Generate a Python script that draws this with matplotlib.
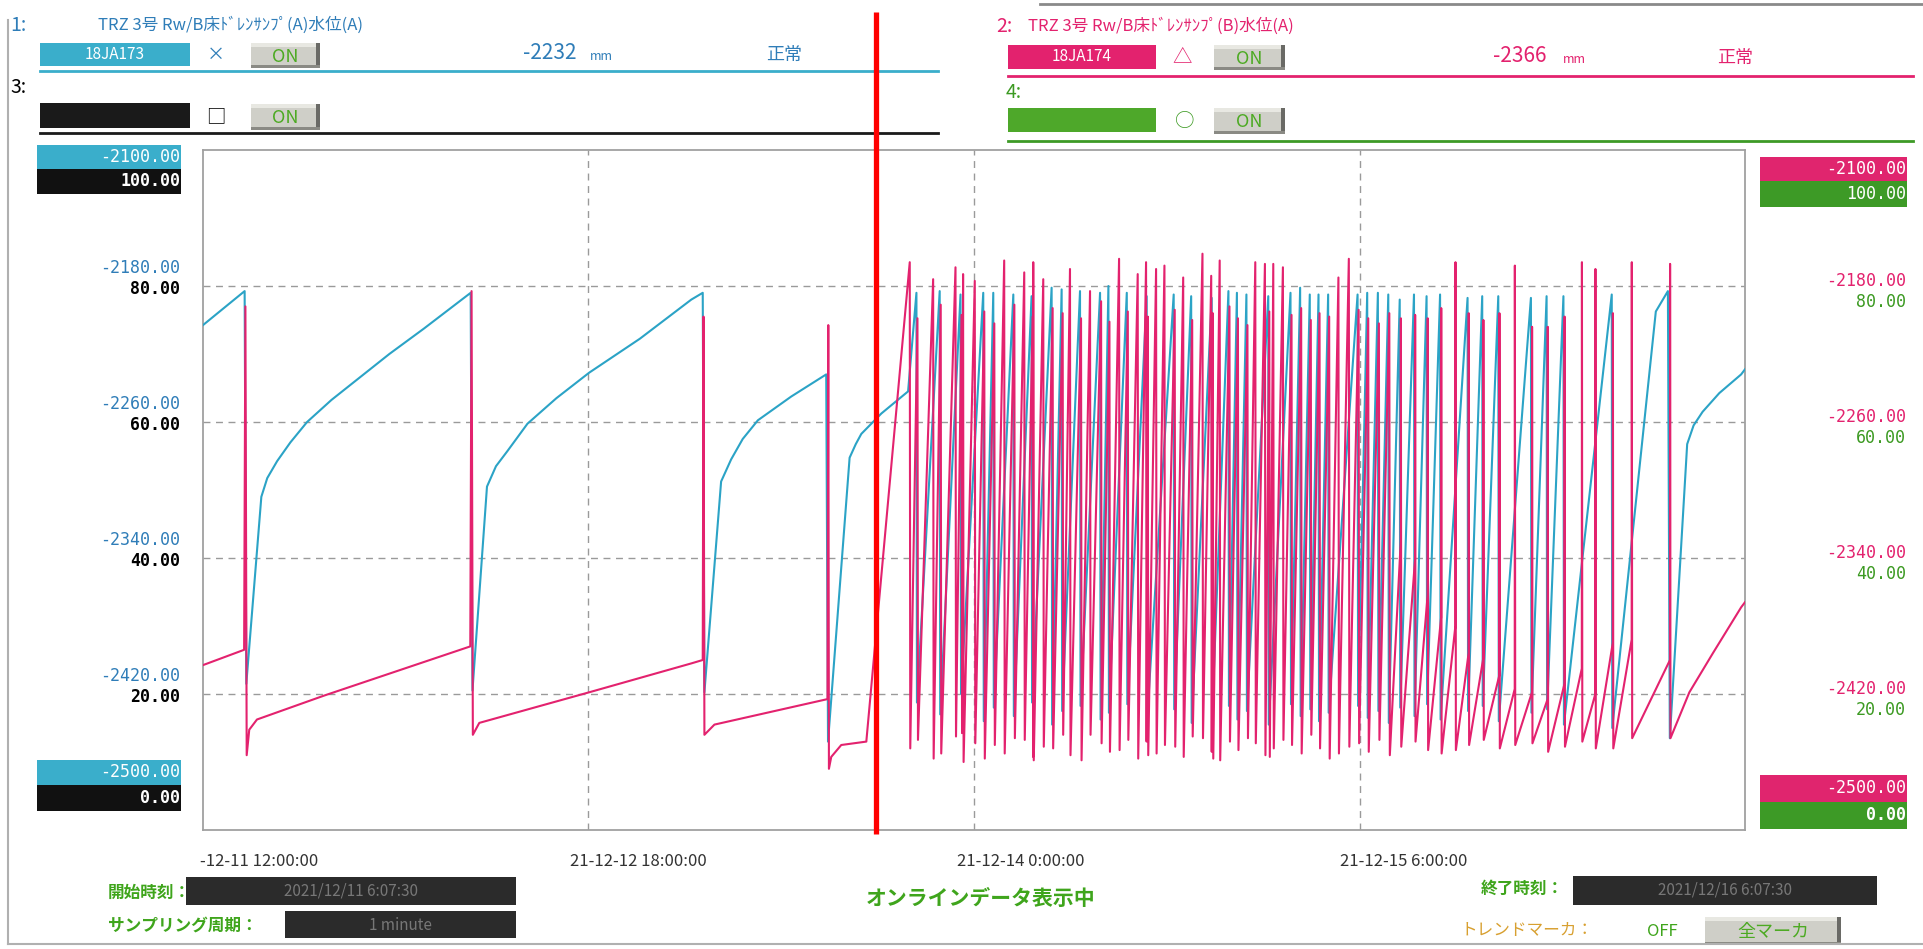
import numpy as np
import matplotlib
matplotlib.use('Agg')
import matplotlib.pyplot as plt
from matplotlib.patches import Rectangle

plt.rcParams['font.family'] = ['Noto Sans CJK JP', 'DejaVu Sans']

W, H = 1923, 949

BLUE = '#2ba3c6'
PINK = '#e3226e'
GREEN = '#3c9a22'
BLUE_TXT = '#2f7db8'
GRID = '#9a9a9a'

# time axis in hours since 2021-12-11 0:00
X_MIN, X_MAX = 12.0, 132.0
Y_MIN, Y_MAX = -2500, -2100
x_ticks = [12, 42, 72, 102]
x_ticklabels = ['-12-11 12:00:00', '21-12-12 18:00:00', '21-12-14 0:00:00', '21-12-15 6:00:00']
y_grid = [-2420, -2340, -2260, -2180]
left_mm_labels = ['-2420.00', '-2340.00', '-2260.00', '-2180.00']
pct_labels = ['20.00', '40.00', '60.00', '80.00']

# sump A (blue) - slow cycles before the fast cycling period
blue_early_t = [12.0, 15.24, 15.37, 16.54, 17.0, 17.77, 18.8, 20.1, 22.0, 24.0, 26.5, 29.2, 32.83,
                32.97, 34.1, 34.8, 35.7, 37.25, 39.5, 42.05, 46.0, 50.0, 50.89,
                51.02, 52.32, 53.1, 54.0, 55.18, 57.78, 60.5,
                60.64, 62.32, 62.8, 63.23, 64.79, 66.87]
blue_early_v = [-2203, -2183, -2414, -2304, -2293, -2283, -2272, -2260, -2247, -2235, -2220, -2205, -2184,
                -2418, -2298, -2286, -2277, -2261, -2246, -2231, -2211, -2188, -2184,
                -2419, -2295, -2282, -2270, -2259, -2245, -2232,
                -2448, -2281, -2273, -2267, -2255, -2242]

# sump A fast cycles: peak time, peak level, level after the drop
blue_evt_t = [67.52, 69.33, 70.95, 72.72, 73.50, 75.06, 76.48, 78.04, 78.82, 80.25, 81.81, 82.46, 83.89,
              85.44, 87.54, 88.90, 90.50, 91.80, 92.46, 93.20, 94.90, 96.63, 97.38, 98.13, 98.81, 99.56,
              101.85, 102.60, 103.43, 104.24, 105.13, 106.24, 107.22, 108.27, 110.41, 111.55, 112.80,
              115.34, 116.56, 117.87, 121.63]
blue_evt_peak = [-2184, -2183, -2185, -2184, -2184, -2185, -2186, -2181, -2182, -2183, -2184, -2180, -2184,
                 -2186, -2185, -2186, -2187, -2183, -2184, -2185, -2186, -2184, -2181, -2185, -2185, -2185,
                 -2185, -2184, -2184, -2185, -2188, -2185, -2186, -2185, -2187, -2186, -2186,
                 -2187, -2186, -2186, -2185]
blue_evt_low = [-2425, -2432, -2420, -2436, -2428, -2433, -2425, -2438, -2430, -2427, -2435, -2431, -2426,
                -2434, -2429, -2437, -2432, -2427, -2435, -2430, -2438, -2426, -2433, -2429, -2436, -2431,
                -2427, -2434, -2430, -2437, -2428, -2433, -2426, -2435, -2430, -2427, -2436,
                -2431, -2429, -2438, -2440]
blue_tail_t = [125.06, 126.0, 126.15, 127.5, 128.0, 128.7, 130.0, 131.7, 132.0]
blue_tail_v = [-2195, -2183, -2446, -2273, -2262, -2254, -2243, -2232, -2229]

# sump B (pink) - slow part
red_early_t = [12.0, 15.2, 15.3, 15.4, 15.6, 16.2, 21.4, 32.8, 32.9, 33.0, 33.5, 42.05, 50.0, 50.89,
               50.95, 51.02, 51.8, 60.6, 60.66, 60.71, 60.89, 61.67, 63.62]
red_early_v = [-2403, -2394, -2192, -2456, -2441, -2435, -2421, -2392, -2183, -2444, -2437, -2419, -2402,
               -2400, -2198, -2444, -2438, -2423, -2203, -2464, -2457, -2450, -2448]

# sump B tall spikes: time, top, level after drop, level just before (nan = full ramp)
nan = float('nan')
red_tall_t = [67.0, 68.82, 70.56, 71.15, 72.06, 74.35, 75.91, 76.61, 77.39, 79.47, 81.03, 83.29, 84.74,
              85.39, 86.17, 86.82, 88.28, 89.78, 90.46, 91.12, 93.89, 94.64, 95.29, 96.04, 100.36, 101.17,
              109.46, 114.08, 119.30, 120.35, 123.18, 126.16]
red_tall_peak = [-2166, -2176, -2169, -2173, -2177, -2165, -2172, -2166, -2176, -2170, -2183, -2164, -2173,
                 -2166, -2170, -2168, -2175, -2161, -2174, -2165, -2166, -2167, -2167, -2169, -2175, -2164,
                 -2166, -2168, -2166, -2170, -2166, -2167]
red_tall_low = [-2452, -2458, -2445, -2460, -2449, -2455, -2447, -2459, -2451, -2456, -2444, -2453, -2458,
                -2448, -2455, -2450, -2457, -2446, -2454, -2459, -2449, -2456, -2452, -2447, -2455, -2451,
                -2453, -2450, -2448, -2452, -2446, -2446]
red_tall_base = [nan] * 26 + [-2380, -2417, -2405, -2420, -2388, -2400]

# sump B short spikes next to the sump A drops
red_short_t = [67.60, 69.41, 71.03, 72.80, 73.58, 75.14, 76.56, 78.12, 78.90, 80.33, 81.89, 82.54, 83.97,
               85.52, 87.62, 88.98, 90.58, 91.88, 92.54, 93.28, 94.98, 96.71, 97.46, 98.21, 98.89, 99.64,
               101.93, 102.68, 103.51, 104.32, 105.21, 106.32, 107.30, 108.35, 110.49, 111.63, 112.88,
               115.42, 116.64, 117.95, 121.71]
red_short_peak = [-2199, -2191, -2197, -2195, -2202, -2191, -2198, -2193, -2196, -2199, -2189, -2201, -2195,
                  -2198, -2194, -2200, -2196, -2192, -2199, -2203, -2195, -2197, -2193, -2200, -2196, -2198,
                  -2194, -2199, -2202, -2196, -2199, -2197, -2199, -2193, -2196, -2200, -2196,
                  -2204, -2204, -2198, -2196]
red_short_low = [-2447, -2455, -2443, -2458, -2450, -2446, -2457, -2452, -2444, -2459, -2449, -2454, -2447,
                 -2456, -2451, -2445, -2458, -2448, -2453, -2446, -2457, -2450, -2455, -2444, -2452, -2458,
                 -2449, -2454, -2447, -2456, -2451, -2448, -2453, -2455, -2450, -2447, -2452,
                 -2449, -2454, -2451, -2452]
red_short_base = [nan] * 30 + [-2330, -2341, -2362, -2375, -2396, -2399, -2409, -2419, -2423, -2414, -2390]
red_tail_t = [127.67, 129.5, 131.7, 132.0]
red_tail_v = [-2419, -2396, -2369, -2366]


def sawtooth(times, peaks, lows, bases=None):
    xs, ys = [], []
    if bases is None:
        bases = [nan] * len(times)
    order = np.argsort(times)
    for i in order:
        t, p, lo, b = times[i], peaks[i], lows[i], bases[i]
        if not np.isnan(b):
            xs += [t, t + 0.01]
            ys += [b, p]
        else:
            xs.append(t)
            ys.append(p)
        xs.append(t + 0.04)
        ys.append(lo)
    return xs, ys


bx, by = sawtooth(blue_evt_t, blue_evt_peak, blue_evt_low)
blue_t = blue_early_t + bx + blue_tail_t
blue_v = blue_early_v + by + blue_tail_v

rx, ry = sawtooth(red_tall_t + red_short_t, red_tall_peak + red_short_peak,
                  red_tall_low + red_short_low, red_tall_base + red_short_base)
red_t = red_early_t + rx + red_tail_t
red_v = red_early_v + ry + red_tail_v

fig = plt.figure(figsize=(W / 100, H / 100), dpi=100)
fig.patch.set_facecolor('white')

# plot area (pixel frame 203..1745 x 150..830)
px0, px1, py0, py1 = 203, 1745, 150, 830
ax = fig.add_axes([px0 / W, 1 - py1 / H, (px1 - px0) / W, (py1 - py0) / H])
ax.plot(blue_t, blue_v, color=BLUE, lw=1.5, zorder=3)
ax.plot(red_t, red_v, color=PINK, lw=1.5, zorder=4)
ax.set_xlim(X_MIN, X_MAX)
ax.set_ylim(Y_MIN, Y_MAX)
for g in y_grid:
    ax.axhline(g, color=GRID, lw=1, ls=(0, (5, 4)), zorder=1)
for t in x_ticks[1:]:
    ax.axvline(t, color=GRID, lw=1, ls=(0, (5, 4)), zorder=1)
ax.set_xticks([])
ax.set_yticks([])
for s in ax.spines.values():
    s.set_color('#a0a0a0')
    s.set_linewidth(1.3)

# overlay in pixel coordinates for the screen furniture
ui = fig.add_axes([0, 0, 1, 1], zorder=5)
ui.set_xlim(0, W)
ui.set_ylim(H, 0)
ui.axis('off')
ui.patch.set_alpha(0)


def box(x0, y0, x1, y1, color, **kw):
    ui.add_patch(Rectangle((x0, y0), x1 - x0, y1 - y0, facecolor=color, edgecolor='none', **kw))


def button(x0, y0, x1, y1, label, fs=13):
    box(x0, y0, x1, y1, '#cfcfc8')
    box(x0, y0, x1, y0 + 4, '#e8e8e2')
    box(x1 - 4, y0, x1, y1, '#6a6a66')
    box(x0, y1 - 3, x1, y1, '#8a8a84')
    ui.text((x0 + x1) / 2, (y0 + y1) / 2 + 1, label, color='#4caa22', fontsize=fs,
            ha='center', va='center')


# page borders of the scan
ui.plot([8, 8], [20, 944], color='#b0b0b0', lw=1.5)
ui.plot([8, 1923], [944, 944], color='#b0b0b0', lw=1.5)
ui.plot([1040, 1923], [4, 4], color='#8a8a8a', lw=2)

# channel 1
ui.text(10, 25, '1:', color=BLUE_TXT, fontsize=14, va='center')
ui.text(98, 25, 'TRZ 3号 Rw/B床ﾄﾞﾚﾝｻﾝﾌﾟ(A)水位(A)', color=BLUE_TXT, fontsize=12, va='center')
box(40, 43, 190, 66, '#3aaecb')
ui.text(115, 54, '18JA173', color='white', fontsize=11, ha='center', va='center')
ui.text(216, 55, '×', color=BLUE_TXT, fontsize=13, ha='center', va='center')
button(251, 43, 320, 68, 'ON')
ui.text(576, 53, '-2232', color=BLUE_TXT, fontsize=15, ha='right', va='center')
ui.text(590, 56, 'mm', color=BLUE_TXT, fontsize=9, va='center')
ui.text(766, 55, '正常', color=BLUE_TXT, fontsize=13, va='center')
ui.plot([40, 938], [71, 71], color='#3aaecb', lw=2)

# channel 3
ui.text(10, 87, '3:', color='black', fontsize=14, va='center')
box(40, 103, 190, 128, '#1a1a1a')
ui.text(216, 117, '□', color='black', fontsize=14, ha='center', va='center')
button(251, 104, 320, 130, 'ON')
ui.plot([40, 938], [133, 133], color='#1a1a1a', lw=2)

# channel 2
ui.text(996, 26, '2:', color=PINK, fontsize=14, va='center')
ui.text(1028, 26, 'TRZ 3号 Rw/B床ﾄﾞﾚﾝｻﾝﾌﾟ(B)水位(A)', color=PINK, fontsize=12, va='center')
box(1008, 45, 1156, 69, PINK)
ui.text(1082, 56, '18JA174', color='white', fontsize=11, ha='center', va='center')
ui.text(1182, 57, '△', color=PINK, fontsize=14, ha='center', va='center')
button(1214, 45, 1285, 70, 'ON')
ui.text(1547, 56, '-2366', color=PINK, fontsize=15, ha='right', va='center')
ui.text(1563, 59, 'mm', color=PINK, fontsize=9, va='center')
ui.text(1717, 58, '正常', color=PINK, fontsize=13, va='center')
ui.plot([1008, 1913], [76, 76], color=PINK, lw=2)

# channel 4
ui.text(1006, 92, '4:', color=GREEN, fontsize=14, va='center')
box(1008, 108, 1156, 132, '#4ea82a')
ui.text(1185, 121, '○', color=GREEN, fontsize=14, ha='center', va='center')
button(1214, 108, 1285, 134, 'ON')
ui.plot([1008, 1913], [141, 141], color='#3d9a26', lw=2)

# left scale
num = dict(family=['DejaVu Sans Mono'], fontsize=12, ha='right', va='center')
box(37, 145, 181, 169, '#3aaecb')
ui.text(180, 157, '-2100.00', color='white', **num)
box(37, 169, 181, 194, '#111111')
ui.text(180, 181, '100.00', color='white', fontweight='bold', **num)
box(37, 760, 181, 785, '#3aaecb')
ui.text(180, 772, '-2500.00', color='white', **num)
box(37, 785, 181, 811, '#111111')
ui.text(180, 798, '0.00', color='white', fontweight='bold', **num)
y_px = {-2180: 286, -2260: 422, -2340: 558, -2420: 694}
for g, mm, pc in zip(y_grid, left_mm_labels, pct_labels):
    y = y_px[g]
    ui.text(180, y - 18, mm, color=BLUE_TXT, **num)
    ui.text(180, y + 3, pc, color='black', fontweight='bold', **num)

# right scale
box(1760, 157, 1907, 181, '#e0256e')
ui.text(1906, 169, '-2100.00', color='white', **num)
box(1760, 181, 1907, 207, '#3d9a26')
ui.text(1906, 194, '100.00', color='white', **num)
box(1760, 775, 1907, 802, '#e0256e')
ui.text(1906, 788, '-2500.00', color='white', **num)
box(1760, 802, 1907, 829, '#3d9a26')
ui.text(1906, 815, '0.00', color='white', fontweight='bold', **num)
for g, mm, pc in zip(y_grid, left_mm_labels, pct_labels):
    y = y_px[g]
    ui.text(1906, y - 5, mm, color=PINK, **num)
    ui.text(1906, y + 16, pc, color=GREEN, **num)

# time labels
tick_px = [200, 570, 957, 1340]
for xp, lab in zip(tick_px, x_ticklabels):
    ui.text(xp, 862, lab, color='#333333', fontsize=12, va='center')

# footer
ui.text(108, 893, '開始時刻：', color='#3fa51c', fontsize=12, va='center', fontweight='bold')
box(186, 877, 516, 905, '#2b2b2b')
ui.text(351, 891, '2021/12/11 6:07:30', color='#777777', fontsize=11, ha='center', va='center')
ui.text(108, 926, 'サンプリング周期：', color='#3fa51c', fontsize=12, va='center', fontweight='bold')
box(285, 911, 516, 938, '#2b2b2b')
ui.text(400, 925, '1 minute', color='#777777', fontsize=11, ha='center', va='center')
ui.text(981, 898, 'オンラインデータ表示中', color='#3fa51c', fontsize=15, ha='center', va='center',
        fontweight='bold')
ui.text(1564, 889, '終了時刻：', color='#3fa51c', fontsize=12, ha='right', va='center', fontweight='bold')
box(1573, 876, 1877, 905, '#2b2b2b')
ui.text(1725, 890, '2021/12/16 6:07:30', color='#777777', fontsize=11, ha='center', va='center')
ui.text(1594, 931, 'トレンドマーカ：', color='#d8a030', fontsize=12, ha='right', va='center')
ui.text(1647, 932, 'OFF', color='#3fa51c', fontsize=12, va='center')
button(1705, 917, 1841, 945, '全マーカ', fs=13)

# red marker line drawn over the screenshot
ui.plot([876, 876], [12, 834], color='#ff0000', lw=3.8, solid_capstyle='butt')

fig.savefig('out.png', dpi=100)
